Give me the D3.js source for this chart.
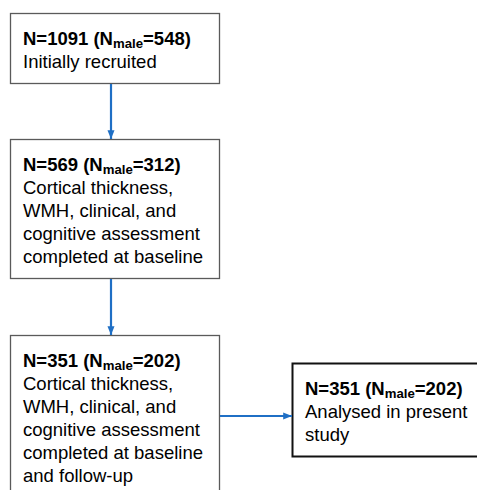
<!DOCTYPE html>
<html><head><meta charset="utf-8">
<script src="https://cdn.jsdelivr.net/npm/d3@7"></script>
<style>body{margin:0;background:#fff}svg{display:block}</style>
</head><body>
<script>
// Data
const totals = [1091, 569, 351, 351];
const males = [548, 312, 202, 202];
const descriptions = [
  ["Initially recruited"],
  ["Cortical thickness,", "WMH, clinical, and", "cognitive assessment", "completed at baseline"],
  ["Cortical thickness,", "WMH, clinical, and", "cognitive assessment", "completed at baseline", "and follow-up"],
  ["Analysed in present", "study"]
];
const links = [[0,1],[1,2],[2,3]];

// Layout
const W = 477, H = 490;
const boxes = [
  {x:10, y:13, w:209, h:70, stroke:"#5a5a5a", sw:1.3},
  {x:10, y:139, w:209, h:139, stroke:"#5a5a5a", sw:1.3},
  {x:10, y:335, w:209, h:170, stroke:"#5a5a5a", sw:1.3},
  {x:292, y:363, w:200, h:93, stroke:"#111", sw:2}
];
const svg = d3.select("body").append("svg").attr("width", W).attr("height", H);
const defs = svg.append("defs");
defs.append("marker").attr("id","arr").attr("viewBox","0 0 10 10")
  .attr("refX",10).attr("refY",5).attr("markerWidth",4).attr("markerHeight",4)
  .attr("orient","auto").attr("markerUnits","strokeWidth")
  .append("path").attr("d","M0,1 L10,5 L0,9 Z").attr("fill","#1f6fc5");

const g = svg.selectAll("g.box").data(boxes).join("g").attr("class","box");
g.append("rect").attr("x",d=>d.x+0.5).attr("y",d=>d.y+0.5).attr("width",d=>d.w).attr("height",d=>d.h)
  .attr("fill","#fff").attr("stroke",d=>d.stroke).attr("stroke-width",d=>d.sw);

const font = "Liberation Sans, Arial, sans-serif";
const lineH = 23, subDy = 3.2;
g.each(function(d,i){
  const sel = d3.select(this);
  const tx = d.x + 13, ty = d.y + 31.5;
  const t = sel.append("text").attr("x",tx).attr("y",ty)
    .attr("font-family",font).attr("font-size",18.5).attr("fill","#000");
  t.append("tspan").attr("font-weight","bold").text(`N=${totals[i]} (N`);
  t.append("tspan").attr("font-weight","bold").attr("font-size",13.2).attr("dy",subDy).text("male");
  t.append("tspan").attr("font-weight","bold").attr("dy",-subDy).text(`=${males[i]})`);
  descriptions[i].forEach((line,j)=>{
    t.append("tspan").attr("x",tx).attr("y",ty + lineH*(j+1)).text(line);
  });
});

// Arrows
links.forEach(([a,b])=>{
  const A = boxes[a], B = boxes[b];
  let x1,y1,x2,y2;
  if (b === 3) {
    x1 = A.x + A.w + 1; y1 = 416; x2 = B.x; y2 = 416;
  } else {
    x1 = x2 = 111; y1 = A.y + A.h + 1; y2 = B.y;
  }
  svg.append("line").attr("x1",x1).attr("y1",y1).attr("x2",x2).attr("y2",y2)
    .attr("stroke","#1f6fc5").attr("stroke-width",2.2).attr("marker-end","url(#arr)");
});
</script>
</body></html>
